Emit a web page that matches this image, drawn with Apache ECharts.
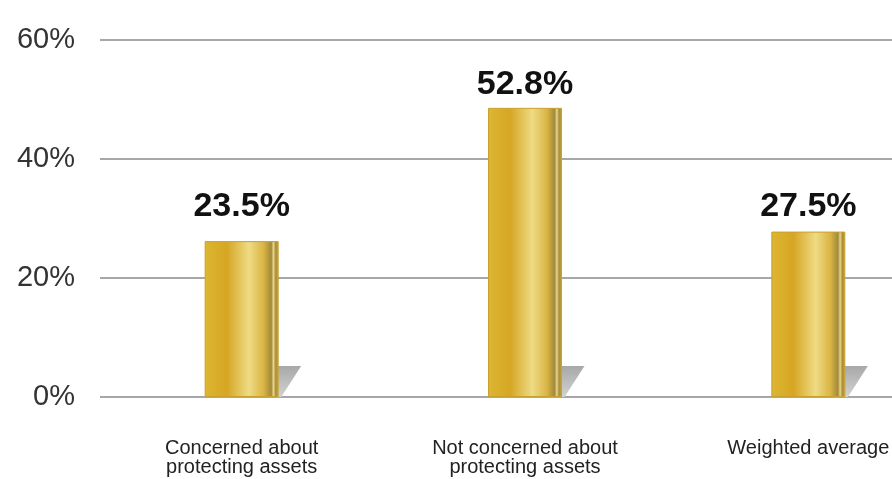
<!DOCTYPE html>
<html>
<head>
<meta charset="utf-8">
<script src="https://cdn.jsdelivr.net/npm/echarts@6/dist/echarts.min.js"></script>
<style>html,body{margin:0;padding:0;background:#fff;}#c{width:892px;height:479px;}</style>
</head>
<body>
<div id="c"></div>
<script>
var categories = ["Concerned about\nprotecting assets", "Not concerned about\nprotecting assets", "Weighted average"];
var barHeights = [26.2, 48.6, 27.8];
var barLabels = ["23.5%", "52.8%", "27.5%"];
var yTicks = [0, 20, 40, 60];

var chart = echarts.init(document.getElementById('c'), null, {renderer: 'canvas'});
var gold = new echarts.graphic.LinearGradient(0, 0, 1, 0, [
  {offset: 0, color: '#dcb632'},
  {offset: 0.3, color: '#d6a624'},
  {offset: 0.6, color: '#eedb84'},
  {offset: 0.8, color: '#d9b443'},
  {offset: 0.86, color: '#b89a3e'},
  {offset: 0.9, color: '#a08a3c'},
  {offset: 0.93, color: '#e8d488'},
  {offset: 0.96, color: '#a88f3a'},
  {offset: 1, color: '#c9a534'}
]);
var labelGap = [17, 6, 8];
chart.setOption({
  animation: false,
  grid: {left: 100, top: 40, bottom: 82, right: -58, containLabel: false, outerBoundsMode: 'none'},
  xAxis: {
    type: 'category',
    data: categories,
    axisLine: {show: false},
    axisTick: {show: false},
    axisLabel: {color: '#222', fontFamily: 'Liberation Sans', fontSize: 20, lineHeight: 19, margin: 42, interval: 0}
  },
  yAxis: {
    type: 'value',
    min: yTicks[0], max: yTicks[yTicks.length - 1], interval: 20,
    axisLine: {show: false},
    axisTick: {show: false},
    axisLabel: {formatter: '{value}%', color: '#333', fontFamily: 'Liberation Sans', fontSize: 29, margin: 25},
    splitLine: {lineStyle: {color: '#8a8a8a', width: 1.5}}
  },
  series: [
    {
      type: 'pictorialBar',
      data: barHeights,
      symbol: 'path://M0,0 L30,0 L4,42 L0,42 Z',
      symbolSize: [23, 31],
      symbolPosition: 'start',
      symbolOffset: [48, 0],
      z: 1,
      itemStyle: {color: new echarts.graphic.LinearGradient(0, 0, 0, 1, [
        {offset: 0, color: '#a8a8a8'}, {offset: 1, color: '#d2d2d2'}])},
      silent: true
    },
    {
      type: 'bar',
      data: barHeights.map(function (v, i) { return {value: v, label: {distance: labelGap[i]}}; }),
      barWidth: 74,
      barGap: '-100%',
      z: 3,
      itemStyle: {color: gold, borderColor: '#c9a12e', borderWidth: 1},
      label: {
        show: true,
        position: 'top',
        formatter: function (p) { return barLabels[p.dataIndex]; },
        color: '#111',
        fontFamily: 'Liberation Sans',
        fontWeight: 'bold',
        fontSize: 34
      }
    }
  ]
});
</script>
</body>
</html>
